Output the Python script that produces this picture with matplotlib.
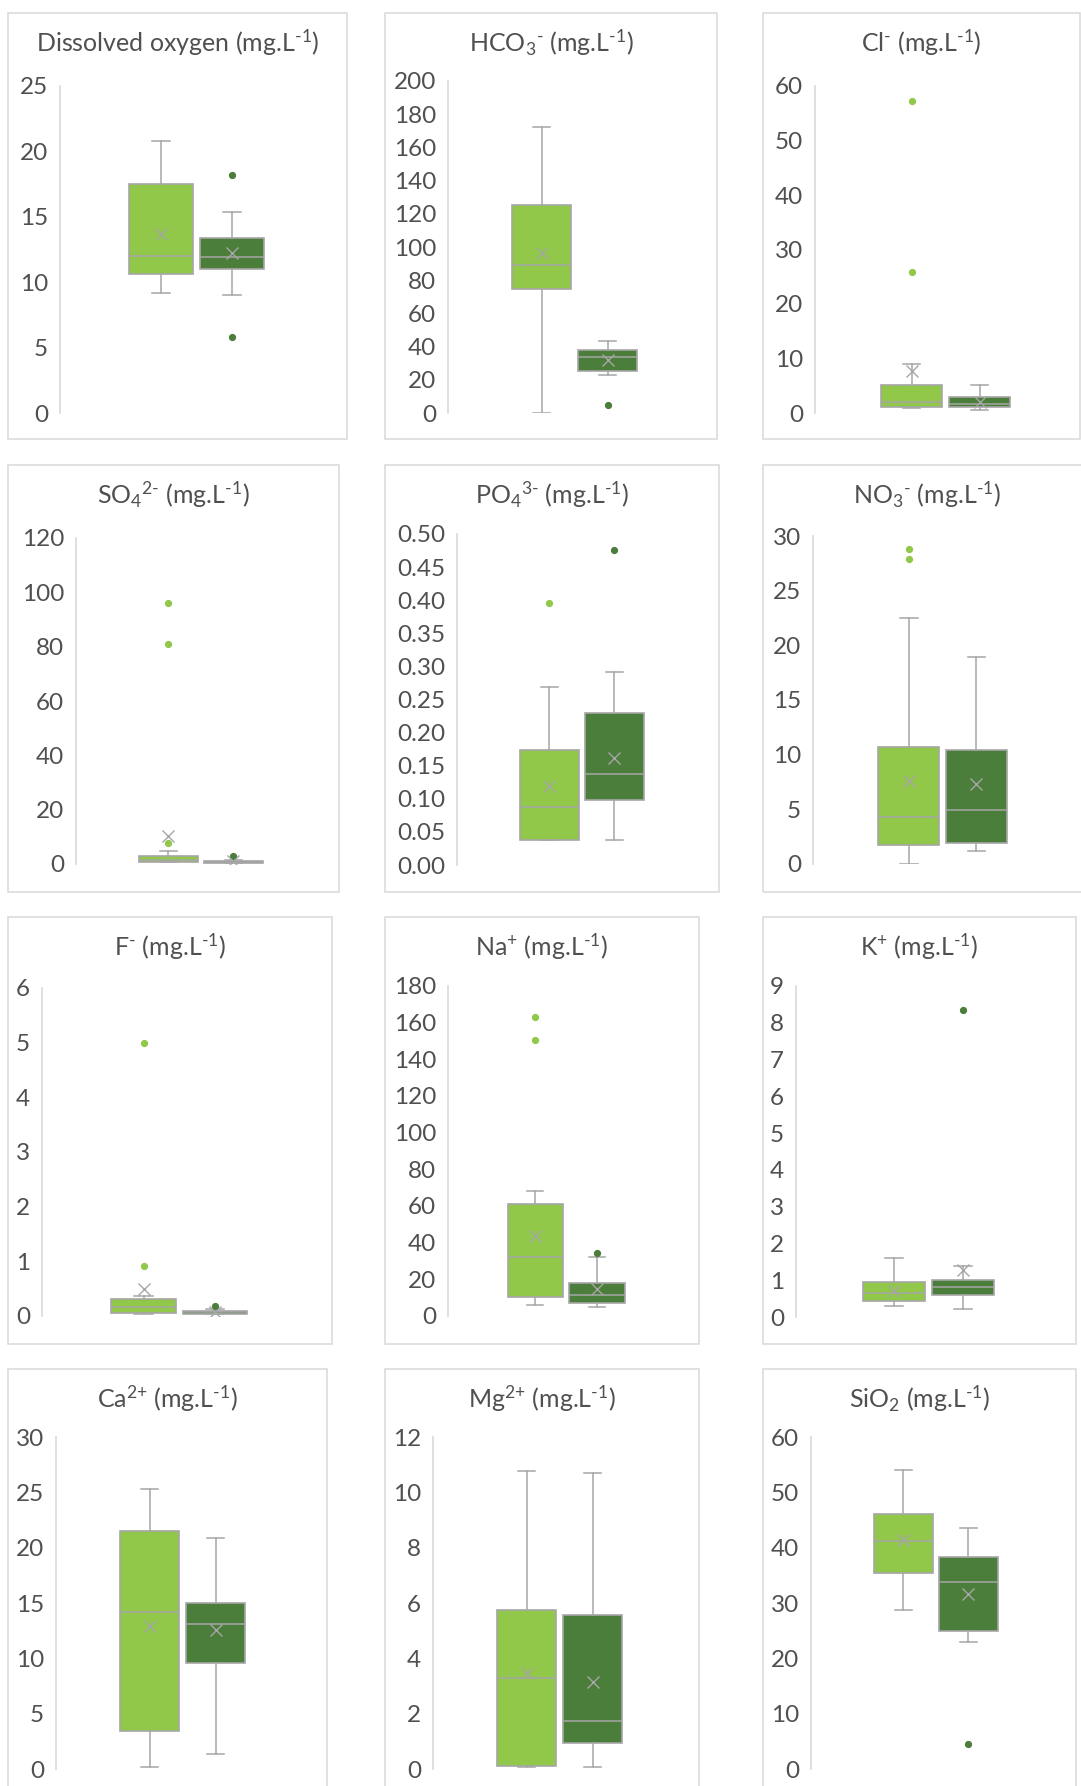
import matplotlib
matplotlib.use("Agg")
import matplotlib.pyplot as plt
from matplotlib.patches import Rectangle
from matplotlib.ticker import MultipleLocator, FormatStrFormatter

plt.rcParams['font.family'] = ['Lato', 'DejaVu Sans']
plt.rcParams['mathtext.fontset'] = 'custom'
plt.rcParams['mathtext.rm'] = 'Lato'
plt.rcParams['mathtext.it'] = 'Lato:italic'
plt.rcParams['mathtext.bf'] = 'Lato:bold'
plt.rcParams['mathtext.default'] = 'regular'

# ---------------------------------------------------------------- data
titles = [
    r'Dissolved oxygen (mg.L$^{\text{-1}}$)',
    r'HCO$_3$$^{\text{-}}$ (mg.L$^{\text{-1}}$)',
    r'Cl$^{\text{-}}$ (mg.L$^{\text{-1}}$)',
    r'SO$_4$$^{\text{2-}}$ (mg.L$^{\text{-1}}$)',
    r'PO$_4$$^{\text{3-}}$ (mg.L$^{\text{-1}}$)',
    r'NO$_3$$^{\text{-}}$ (mg.L$^{\text{-1}}$)',
    r'F$^{\text{-}}$ (mg.L$^{\text{-1}}$)',
    r'Na$^{\text{+}}$ (mg.L$^{\text{-1}}$)',
    r'K$^{\text{+}}$ (mg.L$^{\text{-1}}$)',
    r'Ca$^{\text{2+}}$ (mg.L$^{\text{-1}}$)',
    r'Mg$^{\text{2+}}$ (mg.L$^{\text{-1}}$)',
    r'SiO$_2$ (mg.L$^{\text{-1}}$)',
]
y_max = [25, 200, 60, 120, 0.50, 30, 6, 180, 9, 30, 12, 60]
y_step = [5, 20, 10, 20, 0.05, 5, 1, 20, 1, 5, 2, 10]
y_decimals = [0, 0, 0, 0, 2, 0, 0, 0, 0, 0, 0, 0]

# first group (light green)
a_whislo = [9.2, 0.0, 0.9, 0.6, 0.038, 0.0, 0.03, 6.0, 0.31, 0.15, 0.06, 28.8]
a_q1 = [10.6, 74.4, 1.1, 0.6, 0.038, 1.7, 0.06, 10.2, 0.43, 3.4, 0.12, 35.4]
a_med = [12.0, 88.9, 2.0, 1.5, 0.088, 4.3, 0.17, 32.3, 0.65, 14.2, 3.29, 41.2]
a_q3 = [17.5, 125.6, 5.2, 2.8, 0.174, 10.7, 0.32, 61.0, 0.96, 21.5, 5.73, 46.0]
a_whishi = [20.8, 172.5, 8.9, 4.9, 0.269, 22.5, 0.37, 68.2, 1.60, 25.3, 10.77, 54.0]
a_mean = [13.7, 96.3, 7.7, 10.4, 0.120, 7.6, 0.49, 43.9, 0.72, 12.9, 3.47, 41.3]
a_fliers = [[], [], [25.9, 57.2], [7.7, 81.1, 96.1], [0.396], [27.9, 28.8],
            [0.91, 5.0], [150.6, 163.1], [], [], [], []]

# second group (dark green)
b_whislo = [9.0, 22.7, 0.6, 0.2, 0.038, 1.2, 0.04, 4.9, 0.22, 1.4, 0.06, 23.0]
b_q1 = [11.0, 25.1, 1.1, 0.4, 0.098, 1.9, 0.04, 7.3, 0.61, 9.6, 0.95, 25.0]
b_med = [11.9, 33.9, 1.7, 0.6, 0.138, 4.9, 0.07, 11.3, 0.82, 13.1, 1.72, 33.8]
b_q3 = [13.4, 38.1, 2.9, 1.1, 0.230, 10.4, 0.10, 17.8, 1.01, 15.0, 5.58, 38.4]
b_whishi = [15.4, 43.3, 5.2, 1.6, 0.292, 18.9, 0.13, 32.3, 1.40, 20.9, 10.69, 43.5]
b_mean = [12.2, 31.7, 2.0, 1.2, 0.162, 7.3, 0.07, 14.9, 1.29, 12.6, 3.14, 31.7]
b_fliers = [[5.8, 18.2], [4.6], [], [2.8], [0.476], [], [0.18], [34.1],
            [8.36], [], [], [4.5]]

# ---------------------------------------------------------------- layout (pixels)
W, H = 1081, 1786
frame_top = [13, 465, 917, 1369]
frame_bottom = [439, 892, 1344, 1800]
frame_cols = [
    [(8, 347), (385, 717), (763, 1080)],
    [(8, 339), (385, 719), (763, 1092)],
    [(8, 332), (385, 699), (763, 1076)],
    [(8, 327), (385, 699), (763, 1076)],
]
axis_x = [60, 448, 815, 76, 457, 813, 42, 448, 796, 56, 433, 811]
axis_top = [86, 81, 86, 538, 534, 536, 988, 986, 986, 1437, 1437, 1437]
axis_bottom = [413, 413, 413, 864, 865, 864, 1316, 1316, 1317, 1769, 1769, 1769]
slot = [71, 66, 68, 65, 65, 67.5, 71.5, 61.5, 69, 66, 66, 65]

LIGHT = '#92C84A'
DARK = '#4A7E3A'
GRAY = '#A6A6A6'
AXIS = '#D9D9D9'
TEXT = '#505050'

fig = plt.figure(figsize=(W / 100, H / 100), dpi=100)
fig.patch.set_facecolor('white')


def px_box(x0, y_top, x1, y_bot):
    return [x0 / W, 1 - y_bot / H, (x1 - x0) / W, (y_bot - y_top) / H]


def draw_group(ax, pos, stats, color):
    ax.bxp([stats], positions=[pos], widths=0.9, capwidths=0.26,
           patch_artist=True, showmeans=True, showfliers=True,
           manage_ticks=False,
           boxprops=dict(facecolor=color, edgecolor=GRAY, linewidth=1.2),
           whiskerprops=dict(color=GRAY, linewidth=1.1),
           capprops=dict(color=GRAY, linewidth=1.1),
           medianprops=dict(color=GRAY, linewidth=1.1),
           meanprops=dict(marker='x', markeredgecolor=GRAY,
                          markerfacecolor=GRAY, markersize=8,
                          markeredgewidth=1.0),
           flierprops=dict(marker='o', markerfacecolor=color,
                           markeredgecolor=color, markersize=4.2))


for i in range(12):
    r, c = divmod(i, 3)
    fx0, fx1 = frame_cols[r][c]
    fy0, fy1 = frame_top[r], frame_bottom[r]
    fig.add_artist(Rectangle((fx0 / W, 1 - fy1 / H), (fx1 - fx0) / W,
                             (fy1 - fy0) / H, transform=fig.transFigure,
                             facecolor='none', edgecolor=AXIS, linewidth=1.1))
    fig.text((fx0 + fx1) / 2 / W, 1 - (fy0 + 39) / H, titles[i],
             ha='center', va='baseline', fontsize=18, color=TEXT)

    width_px = 3.84 * slot[i]
    ax = fig.add_axes(px_box(axis_x[i], axis_top[i],
                             axis_x[i] + width_px, axis_bottom[i]))
    ax.patch.set_alpha(0)
    sa = dict(whislo=a_whislo[i], q1=a_q1[i], med=a_med[i], q3=a_q3[i],
              whishi=a_whishi[i], mean=a_mean[i], fliers=a_fliers[i])
    sb = dict(whislo=b_whislo[i], q1=b_q1[i], med=b_med[i], q3=b_q3[i],
              whishi=b_whishi[i], mean=b_mean[i], fliers=b_fliers[i])
    draw_group(ax, 1, sa, LIGHT)
    draw_group(ax, 2, sb, DARK)

    ax.set_xlim(-0.42, 3.42)
    ax.set_ylim(0, y_max[i])
    ax.yaxis.set_major_locator(MultipleLocator(y_step[i]))
    ax.yaxis.set_major_formatter(FormatStrFormatter('%%.%df' % y_decimals[i]))
    ax.tick_params(axis='y', length=0, pad=8.5, labelsize=17.5, labelcolor=TEXT)
    ax.xaxis.set_visible(False)
    for side in ('top', 'right', 'bottom'):
        ax.spines[side].set_visible(False)
    ax.spines['left'].set_color(AXIS)
    ax.spines['left'].set_linewidth(1.2)

fig.savefig('out.png', dpi=100, facecolor='white')
